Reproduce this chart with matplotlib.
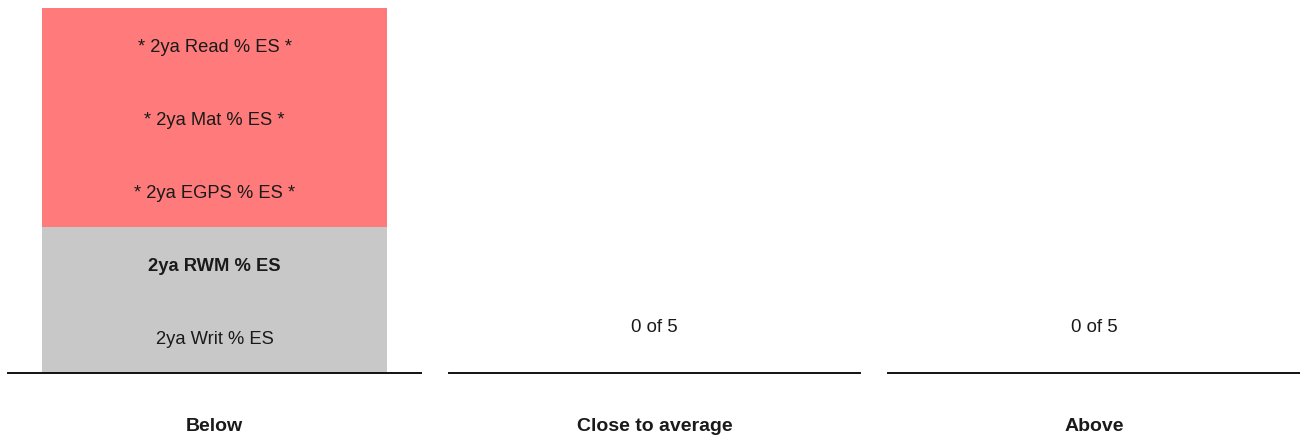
import matplotlib
matplotlib.use("Agg")
import matplotlib.pyplot as plt

plt.rcParams['font.family'] = ['Liberation Sans', 'DejaVu Sans']

categories = ["Below", "Close to average", "Above"]
total_measures = 5
# items in each category, bottom to top: (label, group)
below_items = ["2ya Writ % ES", "2ya RWM % ES", "* 2ya EGPS % ES *", "* 2ya Mat % ES *", "* 2ya Read % ES *"]
below_groups = ["grey", "grey", "red", "red", "red"]
below_bold = [False, True, False, False, False]
items_by_cat = {"Below": below_items, "Close to average": [], "Above": []}
groups_by_cat = {"Below": below_groups, "Close to average": [], "Above": []}
bold_by_cat = {"Below": below_bold, "Close to average": [], "Above": []}

group_colors = {"grey": "#c8c8c8", "red": "#ff7b7b"}

W, H = 1300, 436
fig = plt.figure(figsize=(W / 100, H / 100), dpi=100)

panel_x = [(8, 421), (449, 860), (888, 1300)]
base_y, top_y = 373, 8

for cat, (x0, x1) in zip(categories, panel_x):
    ax = fig.add_axes([x0 / W, (H - base_y) / H, (x1 - x0) / W, (base_y - top_y) / H])
    ax.set_xlim(0, 1)
    ax.set_ylim(0, total_measures)
    ax.axis('off')
    items = items_by_cat[cat]
    groups = groups_by_cat[cat]
    bolds = bold_by_cat[cat]
    for i, (lab, g, b) in enumerate(zip(items, groups, bolds)):
        ax.bar(0.5, 1, bottom=i, width=0.833, color=group_colors[g], edgecolor='none', linewidth=0)
        ax.text(0.5, i + 0.46, lab, ha='center', va='center', fontsize=13.2,
                fontweight='bold' if b else 'normal', color='#1a1a1a')
    if len(items) == 0:
        ax.text(0.5, 0.63, f"{len(items)} of {total_measures}", ha='center', va='center',
                fontsize=13.4, color='#1a1a1a')
    ax.axhline(0, color='#111111', linewidth=1.4, clip_on=False)
    fig.text((x0 + x1) / 2 / W, (H - 426) / H, cat, ha='center', va='center',
             fontsize=14, fontweight='bold', color='#1a1a1a')

fig.savefig("out.png", dpi=100, facecolor='white')
